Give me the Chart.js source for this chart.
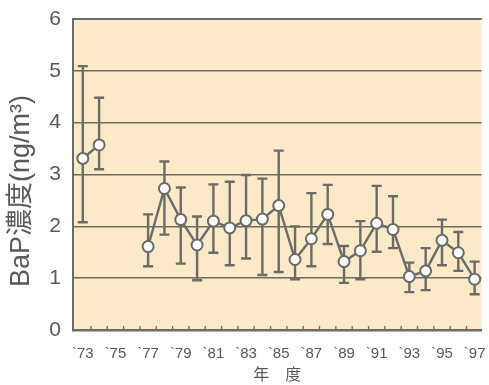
<!DOCTYPE html>
<html lang="ja">
<head>
<meta charset="UTF-8">
<title>BaP濃度</title>
<script src="https://cdn.jsdelivr.net/npm/chart.js@4.4.1/dist/chart.umd.min.js"></script>
<style>
  html, body { margin: 0; padding: 0; background: #fff; }
  #wrap { width: 489px; height: 385px; }
</style>
</head>
<body>
<div id="wrap"><canvas id="myChart" width="489" height="385"></canvas></div>
<script>
// data
const years = [1973, 1974, 1975, 1976, 1977, 1978, 1979, 1980, 1981, 1982, 1983, 1984, 1985,
               1986, 1987, 1988, 1989, 1990, 1991, 1992, 1993, 1994, 1995, 1996, 1997];
const meanVals = [3.31, 3.57, null, null, 1.61, 2.73, 2.13, 1.64, 2.10, 1.97, 2.11, 2.14, 2.40,
                  1.36, 1.76, 2.23, 1.32, 1.53, 2.06, 1.94, 1.03, 1.14, 1.73, 1.49, 0.98];
const upperVals = [5.09, 4.48, null, null, 2.23, 3.25, 2.75, 2.19, 2.81, 2.86, 2.99, 2.92, 3.46,
                   2.00, 2.64, 2.80, 1.62, 2.10, 2.78, 2.58, 1.30, 1.58, 2.13, 1.89, 1.32];
const lowerVals = [2.08, 3.10, null, null, 1.23, 1.84, 1.28, 0.96, 1.49, 1.25, 1.38, 1.06, 1.12,
                   0.98, 1.23, 1.66, 0.91, 0.98, 1.51, 1.58, 0.73, 0.77, 1.25, 1.14, 0.69];
const tickYears = [1973, 1975, 1977, 1979, 1981, 1983, 1985, 1987, 1989, 1991, 1993, 1995, 1997];
const tickLabels = ['`73', '`75', '`77', '`79', '`81', '`83', '`85', '`87', '`89', '`91', '`93', '`95', '`97'];
const yTitle = 'BaP濃度(ng/m³)';

const lineGrey = '#6b6b67';
const textGrey = '#595959';
const fontFam = '"Liberation Sans", Arial, "Noto Sans CJK JP", sans-serif';

// cream plot background, top border, half-year tick marks, y title
const plotDeco = {
  id: 'plotDeco',
  beforeDraw(chart) {
    const {ctx, chartArea: a} = chart;
    ctx.save();
    ctx.fillStyle = 'rgb(251,233,200)';
    ctx.fillRect(a.left, a.top, a.right - a.left, a.bottom - a.top);
    ctx.restore();
  },
  afterDraw(chart) {
    const {ctx, chartArea: a} = chart;
    const x = chart.scales.x;
    ctx.save();
    ctx.strokeStyle = lineGrey;
    ctx.lineWidth = 2;
    ctx.beginPath();
    ctx.moveTo(a.left - 1, a.top);
    ctx.lineTo(a.right, a.top);
    ctx.stroke();
    ctx.lineWidth = 1.3;
    ctx.beginPath();
    for (let i = 0; i < years.length; i++) {
      const px = x.getPixelForValue(years[i] - 0.5);
      if (px <= a.left + 2 || px > a.right) continue;
      ctx.moveTo(px, a.bottom);
      ctx.lineTo(px, a.bottom - 4);
    }
    ctx.stroke();
    // y axis title, sits a bit below the middle in the original
    ctx.translate(22, 191);
    ctx.rotate(-Math.PI / 2);
    ctx.fillStyle = textGrey;
    ctx.font = '27px ' + fontFam;
    ctx.textAlign = 'center';
    ctx.textBaseline = 'middle';
    ctx.fillText(yTitle, 0, 0);
    ctx.restore();
  }
};

// error bars drawn under the points
const errorBars = {
  id: 'errorBars',
  beforeDatasetsDraw(chart) {
    const {ctx} = chart;
    const x = chart.scales.x, y = chart.scales.y;
    ctx.save();
    ctx.strokeStyle = lineGrey;
    ctx.lineWidth = 2.4;
    ctx.beginPath();
    for (let i = 0; i < years.length; i++) {
      if (upperVals[i] == null) continue;
      const px = x.getPixelForValue(years[i]);
      const yt = y.getPixelForValue(upperVals[i]);
      const yb = y.getPixelForValue(lowerVals[i]);
      ctx.moveTo(px, yt); ctx.lineTo(px, yb);
      ctx.moveTo(px - 5, yt); ctx.lineTo(px + 5, yt);
      ctx.moveTo(px - 5, yb); ctx.lineTo(px + 5, yb);
    }
    ctx.stroke();
    ctx.restore();
  }
};

const ctx = document.getElementById('myChart').getContext('2d');
const myChart = new Chart(ctx, {
  type: 'line',
  data: {
    datasets: [{
      data: years.map((yr, i) => ({x: yr, y: meanVals[i]})),
      borderColor: lineGrey,
      borderWidth: 2.4,
      pointRadius: 5.5,
      pointBorderWidth: 2,
      pointBackgroundColor: '#fff',
      pointBorderColor: lineGrey,
      spanGaps: false,
      tension: 0
    }]
  },
  options: {
    responsive: false,
    animation: false,
    layout: { padding: { top: 19, right: 0, left: 0, bottom: 0 } },
    plugins: { legend: { display: false }, tooltip: { enabled: false } },
    scales: {
      x: {
        type: 'linear',
        min: 1972.4,
        max: 1997.42,
        afterBuildTicks: (scale) => { scale.ticks = tickYears.map(v => ({value: v})); },
        afterFit: (scale) => { scale.height = 55; scale.paddingLeft = 0; scale.paddingRight = 0; },
        ticks: {
          autoSkip: false,
          maxRotation: 0,
          padding: 15,
          color: textGrey,
          font: { family: fontFam, size: 15 },
          callback: (v, i) => tickLabels[i]
        },
        grid: { display: false, drawTicks: false },
        border: { display: true, color: lineGrey, width: 2.5 },
        title: {
          display: true,
          text: '年　度',
          color: textGrey,
          font: { family: fontFam, size: 16 },
          padding: { top: 0, bottom: 0 }
        }
      },
      y: {
        min: 0,
        max: 6,
        afterFit: (scale) => { scale.width = 73; scale.paddingTop = 0; scale.paddingBottom = 0; },
        ticks: {
          stepSize: 1,
          padding: 12,
          color: textGrey,
          font: { family: fontFam, size: 21 }
        },
        grid: { color: lineGrey, lineWidth: 1.4, drawTicks: false },
        border: { display: true, color: lineGrey, width: 2 },
        title: { display: false }
      }
    }
  },
  plugins: [plotDeco, errorBars]
});
</script>
</body>
</html>
